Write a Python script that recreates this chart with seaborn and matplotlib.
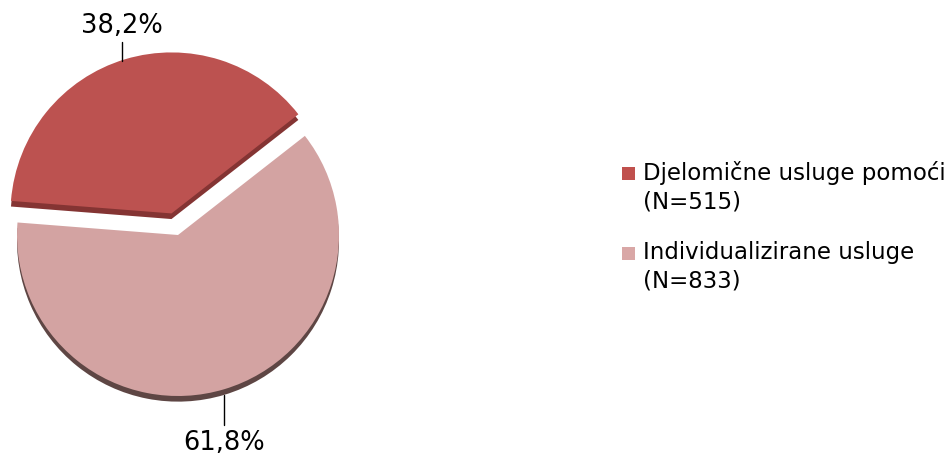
import numpy as np
import matplotlib
matplotlib.use('Agg')
from matplotlib import pyplot as plt
from matplotlib.patches import Rectangle
import seaborn as sns

# data
categories = ['Djelomične usluge pomoći', 'Individualizirane usluge']
counts = [515, 833]
pct_labels = ['38,2%', '61,8%']
legend_labels = ['Djelomične usluge pomoći\n(N=515)', 'Individualizirane usluge\n(N=833)']

colors = ['#BC5250', '#D3A3A2']
side_colors = ['#843433', '#5E4644']
legend_colors = ['#C0504D', '#D9A7A6']

sns.set_theme(style='white')
plt.rcParams['font.family'] = ['DejaVu Sans']

W, H = 952, 454
fig = plt.figure(figsize=(W / 100, H / 100), dpi=100)
fig.patch.set_facecolor('white')

# pie axes: centre (178, 235) px, radius 161 px
cx, cy, r = 178, 235, 161
ax = fig.add_axes([(cx - r) / W, (H - cy - r) / H, 2 * r / W, 2 * r / H])

start = 38
explode = [0.14, 0]
depth = 0.035

# 3D-ish side (shadow) pie under the main one
sides, _ = ax.pie(counts, colors=side_colors, startangle=start, explode=explode,
                  center=(0, -depth), radius=1, counterclock=True)
top, _ = ax.pie(counts, colors=colors, startangle=start, explode=explode,
                center=(0, 0), radius=1, counterclock=True)
for w in sides + top:
    w.set_clip_on(False)
    w.set_linewidth(0)

ax.set_xlim(-1, 1)
ax.set_ylim(-1, 1)
ax.set_aspect('equal')
ax.axis('off')

# percentage labels with leader lines
total = sum(counts)
ang0 = start
for i, c in enumerate(counts):
    span = 360 * c / total
    mid = np.deg2rad(ang0 + span / 2)
    ang0 += span
    d = 1 + explode[i]
    ex, ey = d * np.cos(mid), d * np.sin(mid)
    if ey > 0:
        ex -= 0.02
        ty = 1.2
        ax.plot([ex, ex], [ey - 0.01, ty], color='black', lw=1, clip_on=False)
        ax.text(ex, ty + 0.02, pct_labels[i], ha='center', va='bottom',
                fontsize=18.5, color='black', clip_on=False)
    else:
        ey_s = ey - depth
        ty = -1.18
        ax.plot([ex, ex], [ey_s, ty], color='black', lw=1, clip_on=False)
        ax.text(ex, ty - 0.03, pct_labels[i], ha='center', va='top',
                fontsize=18.5, color='black', clip_on=False)

# legend drawn on the figure
lx, ly0, step = 622, 167, 80
for i, lab in enumerate(legend_labels):
    y = ly0 + i * step
    fig.patches.append(Rectangle((lx / W, 1 - (y + 13) / H), 13 / W, 13 / H,
                                 transform=fig.transFigure, facecolor=legend_colors[i],
                                 edgecolor='none'))
    fig.text(643 / W, 1 - (y - 6) / H, lab, ha='left', va='top', fontsize=16.5,
             color='black', linespacing=1.3)

fig.savefig('out.png', dpi=100, facecolor='white')
